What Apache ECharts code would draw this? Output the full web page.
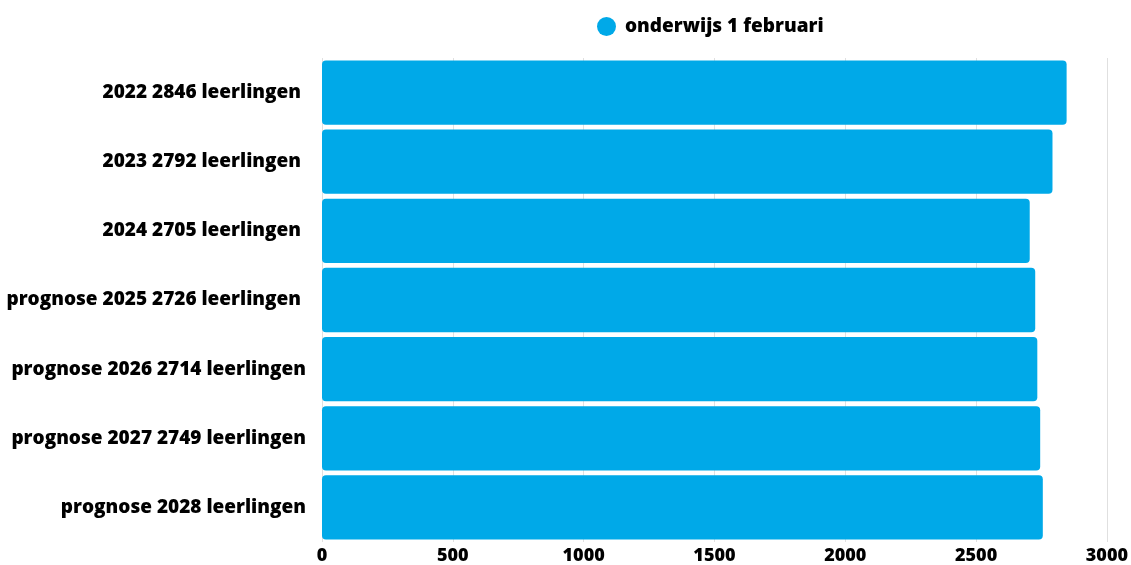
<!DOCTYPE html>
<html>
<head>
<meta charset="utf-8">
<script src="https://cdn.jsdelivr.net/npm/echarts@6/dist/echarts.min.js"></script>
<style>
  html, body { margin: 0; padding: 0; background: #fff; }
  #chart { width: 1131px; height: 565px; }
</style>
</head>
<body>
<div id="chart"></div>
<script>
const categories = [
  '2022 2846 leerlingen ',
  '2023 2792 leerlingen ',
  '2024 2705 leerlingen ',
  'prognose 2025 2726 leerlingen ',
  'prognose 2026 2714 leerlingen',
  'prognose 2027 2749 leerlingen',
  'prognose 2028 leerlingen'
]
const values = [2846, 2792, 2705, 2726, 2734, 2745, 2755]
const xTicks = [0, 500, 1000, 1500, 2000, 2500, 3000]
const seriesName = 'onderwijs 1 februari'

const chart = echarts.init(document.getElementById('chart'))

const font = '"Open Sans", sans-serif'

chart.setOption({
  animation: false,
  textStyle: { fontFamily: font },
  legend: {
    top: 12,
    left: 592,
    icon: 'circle',
    itemWidth: 19,
    itemHeight: 19,
    itemGap: 8,
    textStyle: { fontFamily: font, fontWeight: 800, fontSize: 19, color: '#000', padding: [0, 0, 0, 4] },
    data: [seriesName]
  },
  grid: { left: 322, right: 24, top: 58, bottom: 23, containLabel: false },
  xAxis: {
    type: 'value',
    min: xTicks[0],
    max: xTicks[xTicks.length - 1],
    interval: xTicks[1] - xTicks[0],
    axisLine: { show: false },
    axisTick: { show: false },
    axisLabel: {
      fontFamily: font, fontWeight: 800, fontSize: 18, color: '#000', margin: 5,
      formatter: (v) => String(v)
    },
    splitLine: { lineStyle: { color: '#e0e0e0', width: 1 } }
  },
  yAxis: {
    type: 'category',
    inverse: true,
    data: categories,
    axisLine: { show: false },
    axisTick: { show: false },
    axisLabel: { fontFamily: font, fontWeight: 800, fontSize: 19, color: '#000', margin: 16 }
  },
  series: [
    {
      name: seriesName,
      type: 'bar',
      data: values,
      barCategoryGap: '7%',
      itemStyle: { color: '#00a9e8', borderRadius: 4 }
    }
  ]
})
</script>
</body>
</html>
